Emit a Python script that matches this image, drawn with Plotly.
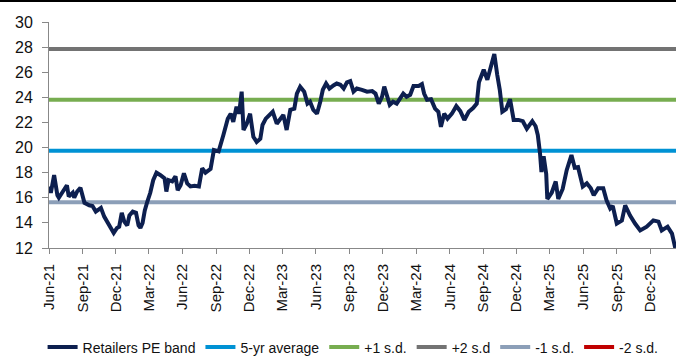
import plotly.graph_objects as go

# ---- data ----
dates = [
    "2021-06-02", "2021-06-06", "2021-06-15", "2021-06-24", "2021-06-28", "2021-07-08", "2021-07-20", "2021-07-25",
    "2021-08-05", "2021-08-09", "2021-08-17", "2021-08-26", "2021-09-01", "2021-09-06", "2021-09-19", "2021-09-28",
    "2021-10-07", "2021-10-21", "2021-10-30", "2021-11-09", "2021-11-18", "2021-11-25", "2021-12-04", "2021-12-10",
    "2021-12-17", "2021-12-24", "2022-01-01", "2022-01-07", "2022-01-16", "2022-01-25", "2022-02-01", "2022-02-06",
    "2022-02-12", "2022-02-18", "2022-02-25", "2022-03-05", "2022-03-13", "2022-03-22", "2022-04-02", "2022-04-13",
    "2022-04-18", "2022-04-24", "2022-05-04", "2022-05-13", "2022-05-19", "2022-05-27", "2022-06-05", "2022-06-14",
    "2022-06-23", "2022-07-04", "2022-07-16", "2022-07-20", "2022-07-25", "2022-08-03", "2022-08-17", "2022-08-26",
    "2022-09-08", "2022-09-21", "2022-10-03", "2022-10-11", "2022-10-18", "2022-10-27", "2022-11-03", "2022-11-10",
    "2022-11-15", "2022-11-24", "2022-12-03", "2022-12-12", "2022-12-21", "2022-12-31", "2023-01-06", "2023-01-15",
    "2023-01-24", "2023-02-03", "2023-02-14", "2023-02-24", "2023-03-04", "2023-03-13", "2023-03-23", "2023-04-03",
    "2023-04-10", "2023-04-19", "2023-04-30", "2023-05-09", "2023-05-16", "2023-05-25", "2023-06-04", "2023-06-13",
    "2023-06-20", "2023-06-29", "2023-07-08", "2023-07-19", "2023-07-28", "2023-08-07", "2023-08-16", "2023-08-25",
    "2023-09-03", "2023-09-12", "2023-09-21", "2023-10-05", "2023-10-19", "2023-11-02", "2023-11-11", "2023-11-20",
    "2023-11-29", "2023-12-05", "2023-12-13", "2023-12-20", "2023-12-29", "2024-01-08", "2024-01-17", "2024-01-26",
    "2024-02-04", "2024-02-14", "2024-02-23", "2024-03-08", "2024-03-17", "2024-03-23", "2024-03-31", "2024-04-11",
    "2024-04-22", "2024-05-01", "2024-05-08", "2024-05-17", "2024-05-26", "2024-06-07", "2024-06-19", "2024-06-30",
    "2024-07-11", "2024-07-23", "2024-08-04", "2024-08-14", "2024-08-20", "2024-09-02", "2024-09-12", "2024-09-22",
    "2024-10-01", "2024-10-09", "2024-10-16", "2024-10-23", "2024-11-02", "2024-11-13", "2024-11-23", "2024-12-06",
    "2024-12-18", "2024-12-29", "2025-01-13", "2025-01-22", "2025-01-28", "2025-02-03", "2025-02-07", "2025-02-13",
    "2025-02-20", "2025-02-23", "2025-03-07", "2025-03-18", "2025-03-25", "2025-04-06", "2025-04-17", "2025-04-30",
    "2025-05-09", "2025-05-18", "2025-05-31", "2025-06-11", "2025-06-22", "2025-06-30", "2025-07-12", "2025-07-26",
    "2025-08-04", "2025-08-14", "2025-08-21", "2025-09-01", "2025-09-15", "2025-09-24", "2025-10-07", "2025-10-21",
    "2025-11-04", "2025-11-22", "2025-12-10", "2025-12-24", "2026-01-02", "2026-01-18", "2026-01-30", "2026-02-08",
]
pe_band = [
    16.9, 16.4, 17.8, 16.2, 16.0, 16.4, 17.0, 16.1,
    16.4, 16.0, 16.5, 16.8, 16.1, 15.6, 15.4, 15.35,
    14.9, 15.2, 14.5, 14.0, 13.6, 13.2, 13.6, 13.7,
    14.8, 14.1, 13.8, 14.6, 14.9, 14.8, 13.8, 13.6,
    14.0, 15.0, 15.7, 16.4, 17.4, 18.0, 17.8, 17.55,
    16.5, 17.4, 17.3, 17.7, 16.6, 17.0, 17.95, 17.15,
    16.9, 16.95, 16.9, 17.7, 18.35, 18.0, 18.3, 19.8,
    19.7, 21.0, 22.3, 22.7, 22.05, 23.25, 22.7, 24.45,
    21.4, 21.9, 22.7, 20.85, 20.45, 20.7, 21.8, 22.3,
    22.6, 22.85, 21.9, 22.3, 22.6, 21.4, 23.0, 23.1,
    24.3, 24.85, 24.45, 23.5, 23.65, 23.0, 22.7, 23.65,
    24.6, 25.1, 24.7, 24.95, 25.1, 25.0, 24.7, 25.2,
    25.3, 24.45, 24.7, 24.6, 24.45, 24.5, 24.3, 23.5,
    24.05, 24.85, 24.05, 23.4, 23.65, 23.5, 23.9, 24.3,
    24.05, 24.2, 24.9, 24.9, 25.05, 24.3, 23.8, 23.85,
    23.1, 22.85, 21.65, 22.7, 22.3, 22.7, 23.3, 22.9,
    22.2, 22.85, 23.15, 23.5, 25.2, 26.2, 25.4, 26.5,
    27.45, 25.8, 24.6, 22.85, 23.05, 23.85, 22.2, 22.2,
    22.1, 21.5, 22.1, 21.7, 21.0, 19.55, 18.05, 19.3,
    17.9, 15.9, 16.4, 17.3, 15.9, 16.7, 18.2, 19.4,
    18.4, 18.45, 16.9, 17.15, 16.75, 16.2, 16.75, 16.75,
    15.8, 15.15, 15.35, 13.95, 14.2, 15.4, 14.6, 13.95,
    13.4, 13.7, 14.2, 14.1, 13.4, 13.7, 13.15, 12.0,
]
avg_5yr = 19.75
plus_1sd = 23.8
plus_2sd = 27.85
minus_1sd = 15.65
minus_2sd = 11.6

x_start = "2021-06-01"
x_end = "2026-02-10"
tick_dates = ["2021-06-01", "2021-09-01", "2021-12-01", "2022-03-01", "2022-06-01", "2022-09-01",
              "2022-12-01", "2023-03-01", "2023-06-01", "2023-09-01", "2023-12-01", "2024-03-01",
              "2024-06-01", "2024-09-01", "2024-12-01", "2025-03-01", "2025-06-01", "2025-09-01",
              "2025-12-01"]

FONT = "Liberation Sans, Arial, sans-serif"

fig = go.Figure()

bands = [("5-yr average", avg_5yr, "#0092D4"),
         ("+1 s.d.", plus_1sd, "#77AD50"),
         ("+2 s.d", plus_2sd, "#737373"),
         ("-1 s.d.", minus_1sd, "#8C9FB8"),
         ("-2 s.d.", minus_2sd, "#C00000")]
for i, (name, val, col) in enumerate(bands):
    fig.add_trace(go.Scatter(x=[x_start, x_end], y=[val, val], mode="lines", name=name,
                             legendrank=(i + 2) * 10, line=dict(color=col, width=4)))

fig.add_trace(go.Scatter(x=dates, y=pe_band, mode="lines", name="Retailers PE band",
                         legendrank=1, line=dict(color="#0D1F4F", width=4)))

fig.update_layout(
    width=676, height=358,
    margin=dict(l=49, r=0, t=22, b=110, autoexpand=False),
    paper_bgcolor="white", plot_bgcolor="white",
    font=dict(family=FONT, size=15, color="#111111"),
    showlegend=True,
    legend=dict(orientation="h", x=0.485, xanchor="center", y=-0.44, yanchor="middle",
                font=dict(size=14, family=FONT), itemwidth=30, tracegroupgap=0,
                traceorder="normal"),
    xaxis=dict(type="date", range=[x_start, x_end], tickvals=tick_dates, tickformat="%b-%y",
               tickangle=-90, ticks="outside", ticklen=5, tickcolor="#888888",
               showline=True, linecolor="#888888", linewidth=1, showgrid=False, zeroline=False,
               tickfont=dict(size=15), ticklabelstandoff=4),
    yaxis=dict(range=[12, 30], dtick=2, tick0=12, ticks="outside", ticklen=6, tickcolor="#888888",
               showline=True, linecolor="#888888", linewidth=1, showgrid=False, zeroline=False,
               tickfont=dict(size=16), ticklabelstandoff=6),
    shapes=[dict(type="line", xref="paper", yref="paper", x0=-49 / 627, x1=1.0,
                 y0=1 + 21 / 226, y1=1 + 21 / 226, line=dict(color="black", width=2))],
)

fig.write_html("out.html")
